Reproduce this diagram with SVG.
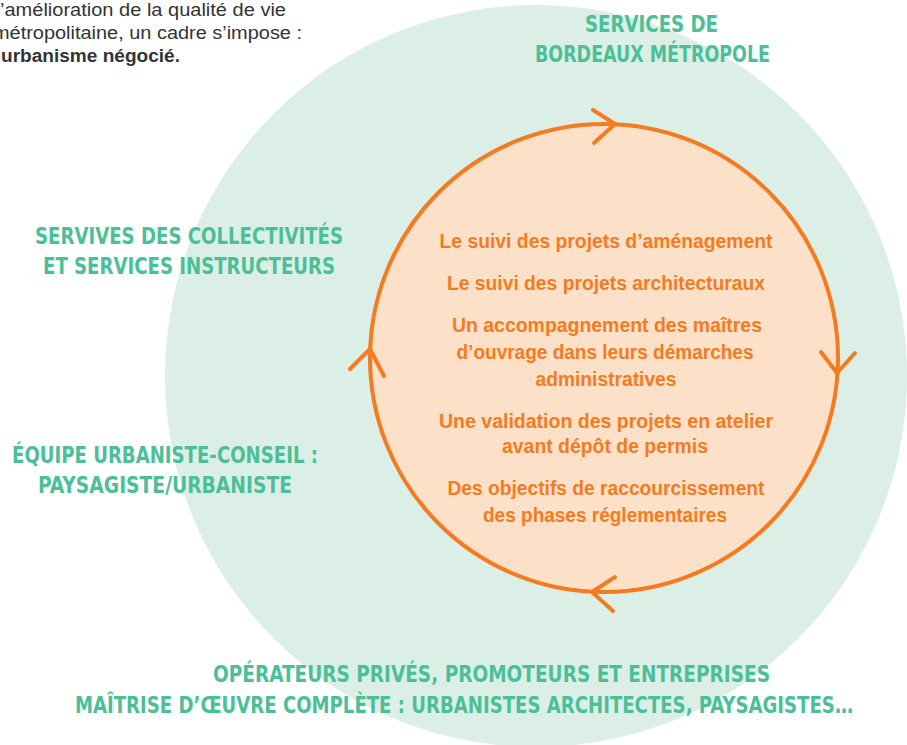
<svg xmlns="http://www.w3.org/2000/svg" width="907" height="745" viewBox="0 0 907 745">
<style>
.lbl{font-family:"DejaVu Sans Condensed","Liberation Sans Narrow","Liberation Sans",sans-serif;font-weight:bold;font-size:23px;fill:#4bbf97}
.inner{font-family:"Liberation Sans",Arial,sans-serif;font-weight:bold;font-size:19.5px;fill:#f47b20;text-anchor:middle}
.intro{font-family:"Liberation Sans",Arial,sans-serif;font-size:17.5px;fill:#333333}
.arrow{fill:none;stroke:#f47b20;stroke-width:4;stroke-linecap:round;stroke-linejoin:round}
</style>
<rect width="907" height="745" fill="#ffffff"/>
<g id="outer-circle">
<circle cx="536" cy="376" r="371" fill="#dcefe6"/>
</g>
<g id="intro-text">
<text class="intro" x="0" y="16" textLength="286" lengthAdjust="spacingAndGlyphs">’amélioration de la qualité de vie</text>
<text class="intro" x="-7" y="39" textLength="309" lengthAdjust="spacingAndGlyphs">métropolitaine, un cadre s’impose :</text>
<text class="intro" x="1" y="62" font-weight="bold" fill="#222222" textLength="179" lengthAdjust="spacingAndGlyphs">urbanisme négocié.</text>
</g>
<g id="label-metropole">
<text class="lbl" x="585" y="32" textLength="133" lengthAdjust="spacingAndGlyphs">SERVICES DE</text>
<text class="lbl" x="535" y="62" textLength="235" lengthAdjust="spacingAndGlyphs">BORDEAUX MÉTROPOLE</text>
</g>
<g id="label-collectivites">
<text class="lbl" x="35" y="244" textLength="308" lengthAdjust="spacingAndGlyphs">SERVIVES DES COLLECTIVITÉS</text>
<text class="lbl" x="43" y="274" textLength="292" lengthAdjust="spacingAndGlyphs">ET SERVICES INSTRUCTEURS</text>
</g>
<g id="label-equipe">
<text class="lbl" x="12" y="463" textLength="306" lengthAdjust="spacingAndGlyphs">ÉQUIPE URBANISTE-CONSEIL :</text>
<text class="lbl" x="38" y="493" textLength="254" lengthAdjust="spacingAndGlyphs">PAYSAGISTE/URBANISTE</text>
</g>
<g id="label-operateurs">
<text class="lbl" x="213" y="682" textLength="557" lengthAdjust="spacingAndGlyphs">OPÉRATEURS PRIVÉS, PROMOTEURS ET ENTREPRISES</text>
<text class="lbl" x="75" y="713" textLength="778" lengthAdjust="spacingAndGlyphs">MAÎTRISE D’ŒUVRE COMPLÈTE : URBANISTES ARCHITECTES, PAYSAGISTES…</text>
</g>
<g id="inner-circle">
<circle cx="604" cy="358" r="234" fill="#fde0c8" stroke="#f47b20" stroke-width="4"/>
<text class="inner" x="606" y="248" textLength="333" lengthAdjust="spacingAndGlyphs">Le suivi des projets d’aménagement</text>
<text class="inner" x="606" y="290" textLength="318" lengthAdjust="spacingAndGlyphs">Le suivi des projets architecturaux</text>
<text class="inner" x="607" y="332" textLength="310" lengthAdjust="spacingAndGlyphs">Un accompagnement des maîtres</text>
<text class="inner" x="605" y="359" textLength="297" lengthAdjust="spacingAndGlyphs">d’ouvrage dans leurs démarches</text>
<text class="inner" x="606" y="386" textLength="141" lengthAdjust="spacingAndGlyphs">administratives</text>
<text class="inner" x="606" y="428" textLength="334" lengthAdjust="spacingAndGlyphs">Une validation des projets en atelier</text>
<text class="inner" x="605" y="453" textLength="206" lengthAdjust="spacingAndGlyphs">avant dépôt de permis</text>
<text class="inner" x="606" y="495" textLength="317" lengthAdjust="spacingAndGlyphs">Des objectifs de raccourcissement</text>
<text class="inner" x="605" y="522" textLength="244" lengthAdjust="spacingAndGlyphs">des phases réglementaires</text>
</g>
<g id="connectors">
<path class="arrow" d="M593,110 L615,124 L594,143"/>
<path class="arrow" d="M821,352 L837,373 L855,353"/>
<path class="arrow" d="M615,577 L592,592 L613,611"/>
<path class="arrow" d="M350,369 L370,349 L384,376"/>
</g>
</svg>
